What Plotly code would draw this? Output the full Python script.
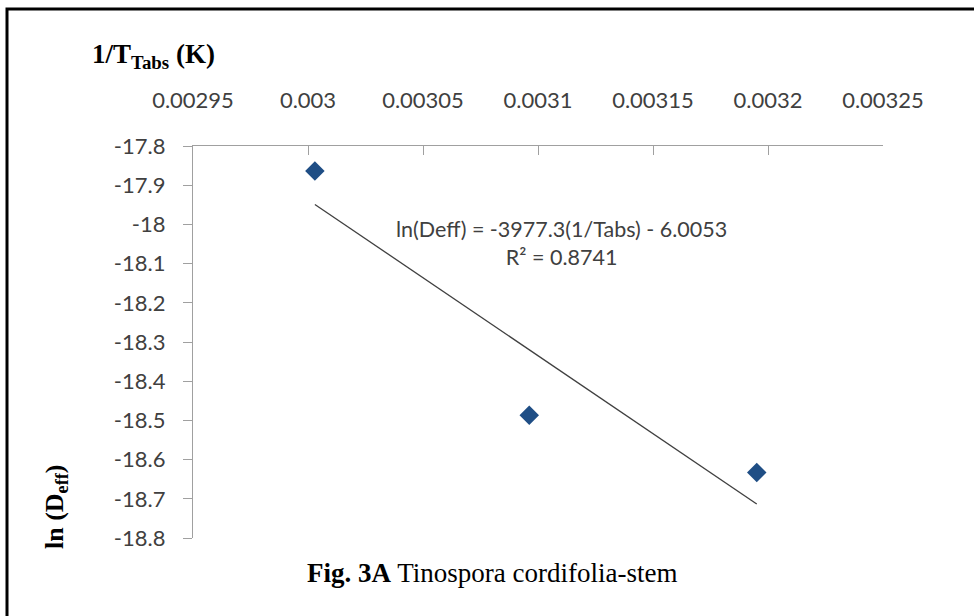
import plotly.graph_objects as go

# Data
inv_T = [0.003003, 0.0030962, 0.0031951]
ln_deff = [-17.864, -18.487, -18.633]
slope = -3977.3
intercept = -6.0053
r2 = 0.8741
x_ticks = [0.00295, 0.003, 0.00305, 0.0031, 0.00315, 0.0032, 0.00325]
x_ticklabels = ["0.00295", "0.003", "0.00305", "0.0031", "0.00315", "0.0032", "0.00325"]
y_ticks = [-17.8, -17.9, -18.0, -18.1, -18.2, -18.3, -18.4, -18.5, -18.6, -18.7, -18.8]
y_ticklabels = ["-17.8", "-17.9", "-18", "-18.1", "-18.2", "-18.3", "-18.4", "-18.5", "-18.6", "-18.7", "-18.8"]

trend_x = [min(inv_T), max(inv_T)]
trend_y = [slope * v + intercept for v in trend_x]

W, H = 974, 616
L, R, T, B = 193, 91, 146, 78
pw, ph = W - L - R, H - T - B

def px(x):
    return (x - L) / pw

def py(y):
    return (H - B - y) / ph

fig = go.Figure()
fig.add_trace(go.Scatter(x=trend_x, y=trend_y, mode="lines",
                         line=dict(color="#404040", width=1.3), showlegend=False, hoverinfo="skip"))
fig.add_trace(go.Scatter(x=inv_T, y=ln_deff, mode="markers",
                         marker=dict(symbol="diamond", size=15, color="#1F4E85",
                                     line=dict(width=0)), showlegend=False))

sans = "Lato, Open Sans, sans-serif"
tickfont = dict(family=sans, size=22, color="#404040")
fig.update_layout(
    width=W, height=H,
    margin=dict(l=L, r=R, t=T, b=B, pad=0),
    paper_bgcolor="white", plot_bgcolor="white",
    xaxis=dict(range=[0.00295, 0.00325], side="top", tickvals=x_ticks, ticktext=x_ticklabels,
               ticks="inside", ticklen=9, tickcolor="#A0A0A0", tickwidth=1.3,
               showline=True, linecolor="#A0A0A0", linewidth=1.3, showgrid=False, zeroline=False,
               tickfont=tickfont, ticklabelstandoff=28),
    yaxis=dict(range=[-18.8, -17.8], tickvals=y_ticks, ticktext=y_ticklabels,
               ticks="outside", ticklen=9, tickcolor="#A0A0A0", tickwidth=1.3,
               showline=True, linecolor="#A0A0A0", linewidth=1.3, showgrid=False, zeroline=False,
               tickfont=tickfont, ticklabelstandoff=13),
)

serif = "Liberation Serif, DejaVu Serif, serif"
fig.add_annotation(x=px(90), y=py(56), xref="paper", yref="paper", xanchor="left", yanchor="middle",
                   text="<b>1/T<sub>Tabs</sub> (K)</b>", showarrow=False,
                   font=dict(family=serif, size=27, color="black"))
fig.add_annotation(x=px(56), y=py(507), xref="paper", yref="paper", xanchor="center", yanchor="middle",
                   text="<b>ln (D<sub>eff</sub>)</b>", textangle=-90, showarrow=False,
                   font=dict(family=serif, size=26, color="black"))
fig.add_annotation(x=px(492), y=py(573), xref="paper", yref="paper", xanchor="center", yanchor="middle",
                   text="<b>Fig. 3A</b> Tinospora cordifolia-stem", showarrow=False,
                   font=dict(family=serif, size=27, color="black"))
fig.add_annotation(x=px(561), y=py(243), xref="paper", yref="paper", xanchor="center", yanchor="middle",
                   text=f"ln(Deff) = {slope}(1/Tabs) - {abs(intercept)}<br>R² = {r2}", showarrow=False,
                   align="center", font=dict(family=sans, size=21.5, color="#404040"))

fig.add_shape(type="rect", xref="paper", yref="paper",
              x0=px(7), y0=py(640), x1=px(1000), y1=py(9),
              line=dict(color="black", width=3), fillcolor="rgba(0,0,0,0)", layer="above")

fig.write_html("out.html")
